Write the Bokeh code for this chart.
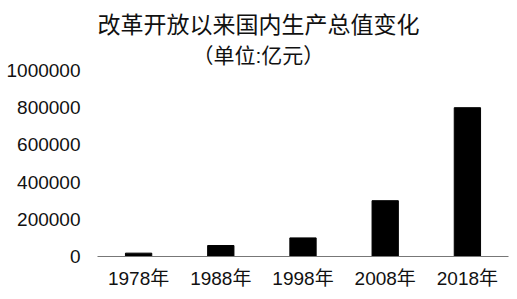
from bokeh.plotting import figure
from bokeh.models import Title, NumeralTickFormatter, FixedTicker, Range1d
from bokeh.embed import file_html
from bokeh.resources import INLINE

years = ["1978年", "1988年", "1998年", "2008年", "2018年"]
gdp = [18000, 59000, 100000, 300000, 800000]
y_ticks = [0, 200000, 400000, 600000, 800000, 1000000]
title_main = "改革开放以来国内生产总值变化"
title_sub = "（单位:亿元）"

FONT = "Noto Sans CJK SC"
LABEL_FONT = "'Liberation Sans', 'Noto Sans CJK SC'"

p = figure(x_range=years, y_range=Range1d(0, 1000000), width=517, height=299,
           output_backend="svg", toolbar_location=None,
           min_border_left=97, min_border_right=9, min_border_bottom=43, min_border_top=0)
p.title = None
p.add_layout(Title(text=title_sub, align="left", vertical_align="top", offset=95,
                   text_font=LABEL_FONT, text_font_size="21px", text_font_style="normal",
                   text_color="#111111", text_line_height=1.0, standoff=3), "above")
p.add_layout(Title(text=title_main, align="left", offset=0, text_font=FONT,
                   text_font_size="23px", text_font_style="normal", text_color="#111111",
                   text_line_height=0.8, standoff=6), "above")

p.vbar(x=years, top=gdp, width=0.32, color="black")

p.outline_line_color = None
p.xgrid.grid_line_color = None
p.ygrid.grid_line_color = None
p.background_fill_color = "white"
p.border_fill_color = "white"

p.yaxis.ticker = FixedTicker(ticks=y_ticks)
p.yaxis.formatter = NumeralTickFormatter(format="0")
p.yaxis.axis_line_color = None
p.yaxis.major_tick_line_color = None
p.yaxis.minor_tick_line_color = None
p.yaxis.major_tick_out = 0
p.yaxis.major_label_standoff = 17
p.yaxis.major_label_text_font = LABEL_FONT
p.yaxis.major_label_text_font_size = "19px"
p.yaxis.major_label_text_color = "#111111"

p.xaxis.axis_line_color = "#777777"
p.xaxis.axis_line_width = 1
p.xaxis.major_tick_line_color = None
p.xaxis.major_tick_out = 0
p.xaxis.major_label_standoff = 11
p.xaxis.major_label_text_font = LABEL_FONT
p.xaxis.major_label_text_font_size = "19px"
p.xaxis.major_label_text_color = "#111111"

open("out.html", "w").write(file_html(p, INLINE))
